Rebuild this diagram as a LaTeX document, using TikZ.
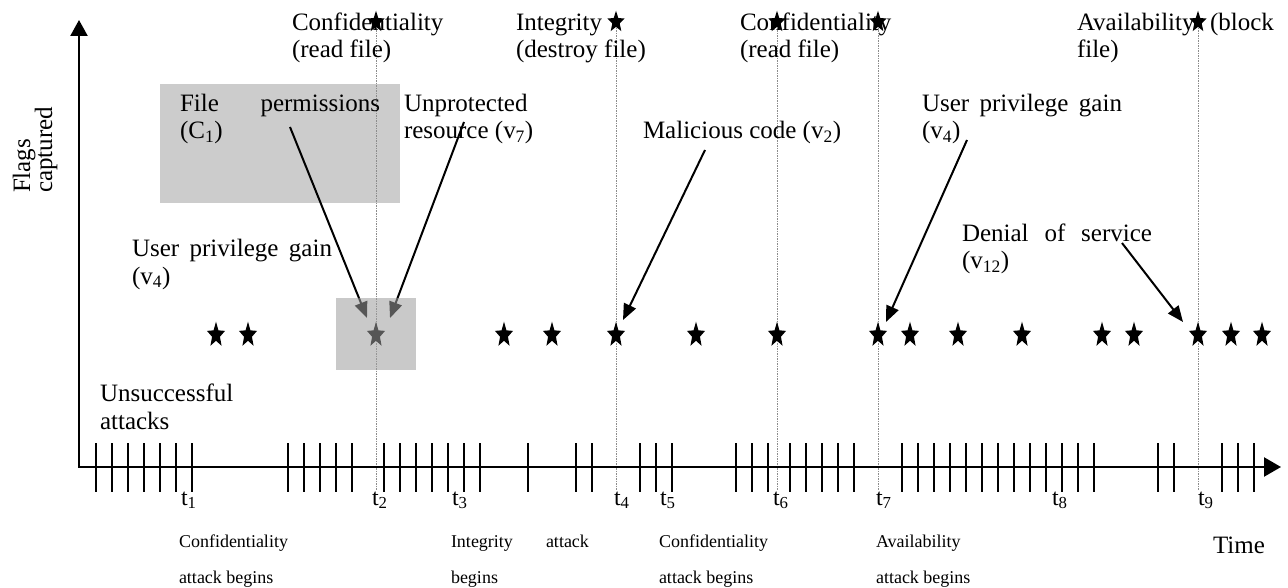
\documentclass[tikz,border=0pt]{standalone}
\usepackage{fontspec}
\setmainfont{Liberation Serif}
\usetikzlibrary{arrows.meta,shapes.geometric}
\definecolor{boxgray}{gray}{0.80}
\definecolor{ovlgray}{gray}{0.62}
\definecolor{vgray}{gray}{0.55}
\newcommand\rowstarat[3]{\begin{scope}[shift={(#2,#3)},yscale=1.4]\node[rowstar] (#1) at (0,0) {};\end{scope}}
\newcommand\topstarat[3]{\begin{scope}[shift={(#2,#3)},yscale=1.25]\node[topstar] (#1) at (0,0) {};\end{scope}}
\begin{document}
\begin{tikzpicture}[x=1pt,y=-1pt,
  lab/.style={font=\fontsize{25}{27}\selectfont, inner sep=0pt, outer sep=0pt, anchor=base west},
  small/.style={font=\fontsize{18}{20}\selectfont, inner sep=0pt, outer sep=0pt, anchor=base west},
  tl/.style={font=\fontsize{24}{26}\selectfont, inner sep=0pt, outer sep=0pt, anchor=base west},
  tickline/.style={line width=1.8pt},
  axisline/.style={line width=2.4pt},
  arr/.style={line width=2pt, -{Triangle[length=16pt,width=13pt]}},
  vline/.style={draw=vgray, line width=0.8pt, dash pattern=on 1.5pt off 1pt},
  rowstar/.style={star, star points=5, star point ratio=2.3, fill=black, draw=none, inner sep=0pt, minimum size=19pt, transform shape},
  topstar/.style={rowstar, minimum size=18pt}]
\useasboundingbox (0,0) rectangle (1288,588);
\fill[white] (0,0) rectangle (1288,588);

% shaded box behind "File permissions"
\fill[boxgray] (160,84) rectangle (400,203);

% dashed vertical guide lines
\foreach \x/\n in {376/2,616/4,777/6,878/7,1198/9}{
  \coordinate (vt\n) at (\x,28);
  \coordinate (vb\n) at (\x,490);
  \draw[vline] (vt\n) -- (vb\n);
}

% top labels
\node[lab] (c1a) at (292,31) {Confidentiality};
\node[lab] (c1b) at (292,58) {(read file)};
\node[lab] (ia) at (516,31) {Integrity};
\node[lab] (ib) at (516,58) {(destroy file)};
\node[lab] (c2a) at (740,31) {Confidentiality};
\node[lab] (c2b) at (740,58) {(read file)};
\node[lab] (aa) at (1077,31) {Availability};
\node[lab] (ab) at (1210,31) {(block};
\node[lab] (ac) at (1077,58) {file)};

% top stars
\topstarat{ts2}{376}{22}
\topstarat{ts4}{616}{22}
\topstarat{ts6}{777}{22}
\topstarat{ts7}{878}{22}
\topstarat{ts9}{1198}{22}

% axis title
\node[lab, rotate=90] (fl1) at (30,193) {Flags};
\node[lab, rotate=90] (fl2) at (52,193) {captured};

% middle labels
\node[lab] (fp) at (180,112) {\hbox to 200pt{File\hfill permissions}};
\node[lab] (fc) at (180,139) {(C\textsubscript{1})};
\node[lab] (up) at (404,112) {Unprotected};
\node[lab] (ur) at (404,139) {resource (v\textsubscript{7})};
\node[lab] (mc) at (643,139) {Malicious code (v\textsubscript{2})};
\node[lab] (rg) at (922,112) {\hbox to 200pt{User\hfill privilege\hfill gain}};
\node[lab] (rv) at (922,139) {(v\textsubscript{4})};
\node[lab] (lg) at (132,256) {\hbox to 200pt{User\hfill privilege\hfill gain}};
\node[lab] (lv) at (132,284) {(v\textsubscript{4})};
\node[lab] (ds) at (962,241) {\hbox to 190pt{Denial\hfill of\hfill service}};
\node[lab] (dv) at (962,269) {(v\textsubscript{12})};
\node[lab] (un1) at (100,401) {Unsuccessful};
\node[lab] (un2) at (100,429) {attacks};

% row of captured flags
\foreach \x [count=\i] in {216,248,376,504,552,616,696,777,878,910,958,1022,1102,1134,1198,1231,1262}{
  \rowstarat{rs\i}{\x}{335}
}

% arrows
\coordinate (a1s) at (290,127); \coordinate (a1e) at (367,318);
\coordinate (a2s) at (464,122); \coordinate (a2e) at (390,318);
\coordinate (a3s) at (705,150); \coordinate (a3e) at (623,320);
\coordinate (a4s) at (967,140); \coordinate (a4e) at (886,322);
\coordinate (a5s) at (1122,243); \coordinate (a5e) at (1183,322);
\draw[arr] (a1s) -- (a1e);
\draw[arr] (a2s) -- (a2e);
\draw[arr] (a3s) -- (a3e);
\draw[arr] (a4s) -- (a4e);
\draw[arr] (a5s) -- (a5e);

% shaded overlay round the first captured flag
\fill[ovlgray, opacity=0.55] (336,298) rectangle (416,370);

% axes
\coordinate (O) at (79,467);
\coordinate (Ytip) at (79,20);
\coordinate (Xtip) at (1281,467);
\draw[axisline, {Triangle[length=16pt,width=17pt]}-{Triangle[length=17pt,width=19pt]}] (Ytip) -- (O) -- (Xtip);

% unsuccessful attack ticks
\foreach \x in {96,112,128,144,160,176,192,288,304,320,336,352,384,400,416,432,448,464,480,528,576,592,640,656,672,736,752,768,790,806,822,838,854,902,918,934,950,966,982,998,1014,1030,1046,1062,1078,1094,1158,1174,1222,1238,1254}{
  \draw[tickline] (\x,443) -- (\x,492);
}

% time labels
\node[tl] (t1) at (181,505) {t\textsubscript{1}};
\node[tl] (t2) at (372,505) {t\textsubscript{2}};
\node[tl] (t3) at (452,505) {t\textsubscript{3}};
\node[tl] (t4) at (614,505) {t\textsubscript{4}};
\node[tl] (t5) at (660,505) {t\textsubscript{5}};
\node[tl] (t6) at (773,505) {t\textsubscript{6}};
\node[tl] (t7) at (876,505) {t\textsubscript{7}};
\node[tl] (t8) at (1052,505) {t\textsubscript{8}};
\node[tl] (t9) at (1198,505) {t\textsubscript{9}};

% bottom labels
\node[small] (b1a) at (179,547) {Confidentiality};
\node[small] (b1b) at (179,583) {attack begins};
\node[small] (b2a) at (451,547) {Integrity};
\node[small] (b2c) at (546,547) {attack};
\node[small] (b2b) at (451,583) {begins};
\node[small] (b3a) at (659,547) {Confidentiality};
\node[small] (b3b) at (659,583) {attack begins};
\node[small] (b4a) at (876,547) {Availability};
\node[small] (b4b) at (876,583) {attack begins};
\node[lab] (time) at (1213,553) {Time};
\end{tikzpicture}
\end{document}
